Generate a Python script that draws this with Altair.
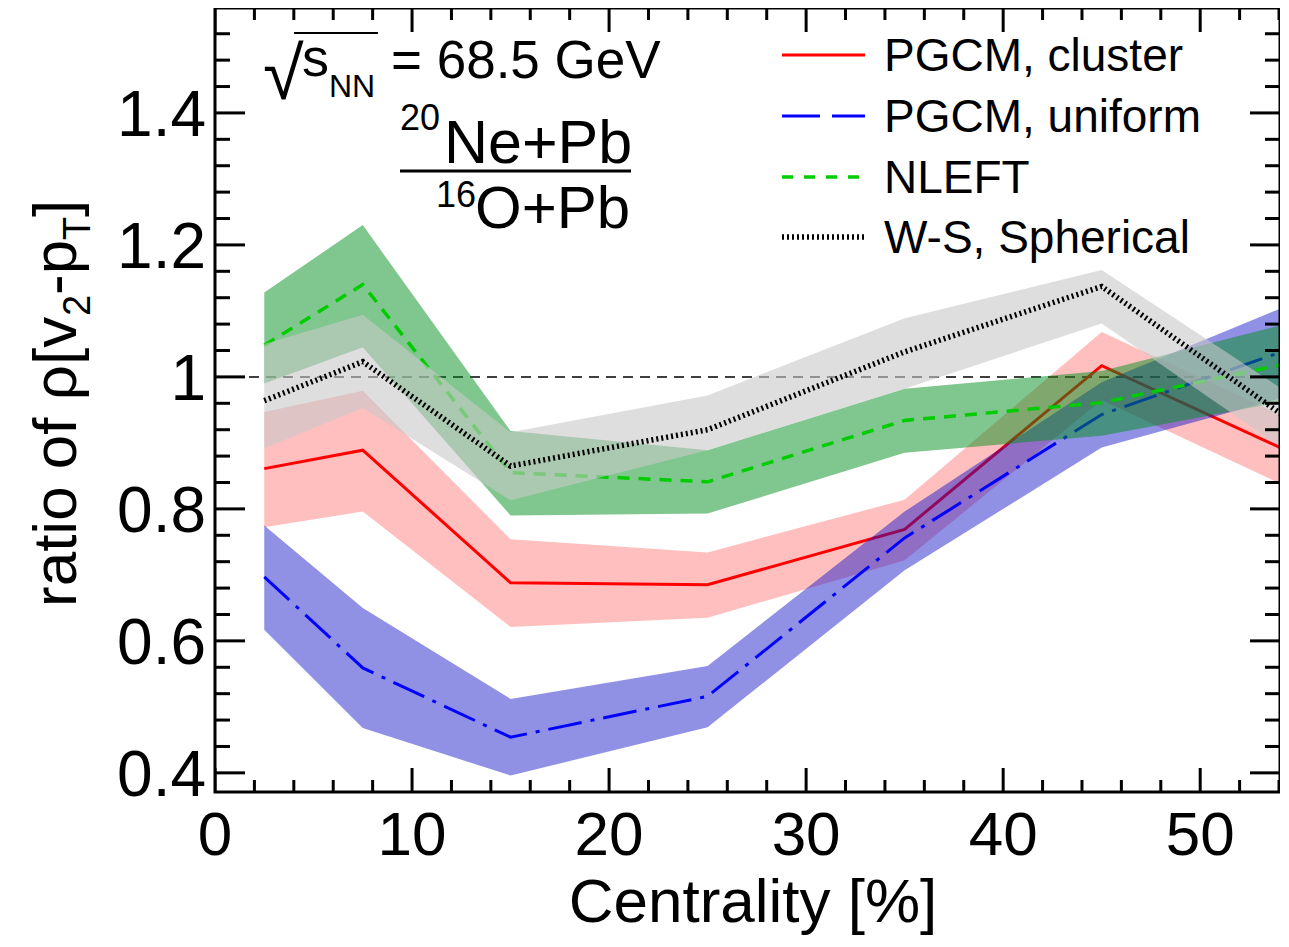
import altair as alt
import pandas as pd

# ---------------- data ----------------
centrality = [2.5, 7.5, 15, 25, 35, 45, 55]

cluster_mid = [0.861, 0.889, 0.688, 0.685, 0.769, 1.017, 0.880]
cluster_lo = [0.772, 0.796, 0.621, 0.635, 0.722, 0.965, 0.825]
cluster_hi = [0.947, 0.979, 0.754, 0.734, 0.814, 1.068, 0.930]

uniform_mid = [0.697, 0.559, 0.454, 0.516, 0.756, 0.943, 1.047]
uniform_lo = [0.617, 0.468, 0.396, 0.469, 0.707, 0.893, 0.975]
uniform_hi = [0.775, 0.650, 0.512, 0.562, 0.796, 0.992, 1.115]

nleft_mid = [1.048, 1.140, 0.855, 0.841, 0.934, 0.961, 1.024]
nleft_lo = [0.990, 1.045, 0.790, 0.793, 0.885, 0.911, 0.967]
nleft_hi = [1.128, 1.230, 0.918, 0.889, 0.982, 1.009, 1.085]

ws_mid = [0.964, 1.023, 0.865, 0.920, 1.038, 1.137, 0.925]
ws_lo = [0.892, 0.953, 0.813, 0.889, 0.982, 1.081, 0.875]
ws_hi = [1.050, 1.094, 0.916, 0.972, 1.089, 1.162, 0.965]

legend_labels = ["PGCM, cluster", "PGCM, uniform", "NLEFT", "W-S, Spherical"]

x_major = [0, 10, 20, 30, 40, 50]
x_labels = ["0", "10", "20", "30", "40", "50"]
x_minor = [2, 4, 6, 8, 12, 14, 16, 18, 22, 24, 26, 28, 32, 34, 36, 38,
           42, 44, 46, 48, 52, 54]
y_major = [0.4, 0.6, 0.8, 1.0, 1.2, 1.4]
y_labels = ["0.4", "0.6", "0.8", "1", "1.2", "1.4"]
y_minor = [0.44, 0.48, 0.52, 0.56, 0.64, 0.68, 0.72, 0.76, 0.84, 0.88,
           0.92, 0.96, 1.04, 1.08, 1.12, 1.16, 1.24, 1.28, 1.32, 1.36,
           1.44, 1.48, 1.52]
reference_level = [1.0]

# ---------------- layout ----------------
FONT = "Liberation Sans"
W, H = 1065, 784          # plot area
LEFT, TOP = 215, 8        # page position of plot area
xs = alt.Scale(domain=[0, 54.05], nice=False, zero=False)
ys = alt.Scale(domain=[0.371, 1.559], nice=False, zero=False)


def band(lo, hi, color, op):
    df = pd.DataFrame({"x": centrality, "lo": lo, "hi": hi})
    return alt.Chart(df).mark_area(color=color, opacity=op, clip=True).encode(
        x=alt.X("x:Q", scale=xs, axis=None),
        y=alt.Y("lo:Q", scale=ys, axis=None),
        y2="hi:Q",
    )


def curve(mid, color, width, dash=None):
    df = pd.DataFrame({"x": centrality, "y": mid})
    kw = dict(color=color, strokeWidth=width, clip=True)
    if dash:
        kw["strokeDash"] = dash
    return alt.Chart(df).mark_line(**kw).encode(
        x=alt.X("x:Q", scale=xs, axis=None),
        y=alt.Y("y:Q", scale=ys, axis=None),
    )


def xticks(vals, length):
    df = pd.DataFrame({"v": vals})
    base = alt.Chart(df).mark_rule(color="black", strokeWidth=3, clip=True)
    return [
        base.encode(x=alt.X("v:Q", scale=xs, axis=None), y=alt.value(H), y2=alt.value(H - length)),
        base.encode(x=alt.X("v:Q", scale=xs, axis=None), y=alt.value(0), y2=alt.value(length)),
    ]


def yticks(vals, length):
    df = pd.DataFrame({"v": vals})
    base = alt.Chart(df).mark_rule(color="black", strokeWidth=3, clip=True)
    return [
        base.encode(y=alt.Y("v:Q", scale=ys, axis=None), x=alt.value(0), x2=alt.value(length)),
        base.encode(y=alt.Y("v:Q", scale=ys, axis=None), x=alt.value(W), x2=alt.value(W - length)),
    ]


def text(t, px, py, size, align="left", angle=0):
    df = pd.DataFrame({"t": [t]})
    return alt.Chart(df).mark_text(font=FONT, fontSize=size, align=align,
                                   baseline="alphabetic", angle=angle,
                                   color="black").encode(
        x=alt.value(px - LEFT), y=alt.value(py - TOP), text="t:N")


def legend_line(py, color, width, dash=None):
    df = pd.DataFrame({"t": [0]})
    kw = dict(color=color, strokeWidth=width)
    if dash:
        kw["strokeDash"] = dash
    return alt.Chart(df).mark_rule(**kw).encode(
        x=alt.value(782 - LEFT), x2=alt.value(865 - LEFT), y=alt.value(py - TOP))


BLUE_DASH = [34, 9, 4, 9]
GREEN_DASH = [12, 9]
BLACK_DASH = [2, 3]

ref = alt.Chart(pd.DataFrame({"v": reference_level})).mark_rule(
    color="black", strokeWidth=1.5, strokeDash=[10, 7]).encode(
    y=alt.Y("v:Q", scale=ys, axis=None), x=alt.value(0), x2=alt.value(W))

layers = [
    ref,
    band(cluster_lo, cluster_hi, "#ff0000", 0.25),
    curve(cluster_mid, "#ff0000", 3),
    band(uniform_lo, uniform_hi, "#1414c8", 0.47),
    curve(uniform_mid, "#0000ff", 3, BLUE_DASH),
    band(nleft_lo, nleft_hi, "#00901e", 0.5),
    curve(nleft_mid, "#00cc00", 3.5, GREEN_DASH),
    band(ws_lo, ws_hi, "#c8c8c8", 0.6),
    curve(ws_mid, "#000000", 5.5, BLACK_DASH),
]
layers += xticks(x_major, 24) + xticks(x_minor, 12)
layers += yticks(y_major, 30) + yticks(y_minor, 15)

frame = alt.Chart(pd.DataFrame({"t": [0]})).mark_rect(
    fillOpacity=0, stroke="black", strokeWidth=3).encode(
    x=alt.value(0), x2=alt.value(W), y=alt.value(0), y2=alt.value(H))
layers.append(frame)

# tick labels
xl = alt.Chart(pd.DataFrame({"v": x_major, "t": x_labels})).mark_text(
    font=FONT, fontSize=62, align="center", baseline="alphabetic", color="black").encode(
    x=alt.X("v:Q", scale=xs, axis=None), y=alt.value(H + 63), text="t:N")
yl = alt.Chart(pd.DataFrame({"v": y_major, "t": y_labels})).mark_text(
    font=FONT, fontSize=64, align="right", baseline="alphabetic", dx=-9, dy=23,
    color="black").encode(
    y=alt.Y("v:Q", scale=ys, axis=None), x=alt.value(0), text="t:N")
layers += [xl, yl]

# axis titles
layers.append(text("Centrality [%]", 753, 922, 62, align="center"))
layers.append(text("ratio of \u03c1[v", 76, 607, 62, angle=270))
layers.append(text("2", 90, 316, 38, angle=270))
layers.append(text("-p", 76, 295, 62, angle=270))
layers.append(text("T", 90, 240, 38, angle=270))
layers.append(text("]", 76, 217, 62, angle=270))

# energy label
layers.append(text("\u221a", 263, 99, 74))
overline = alt.Chart(pd.DataFrame({"t": [0]})).mark_rule(color="black", strokeWidth=2).encode(
    x=alt.value(294 - LEFT), x2=alt.value(378 - LEFT), y=alt.value(33 - TOP))
layers.append(overline)
layers.append(text("s", 302, 76, 54))
layers.append(text("NN", 329, 97, 32))
layers.append(text("= 68.5 GeV", 391, 78, 53))

# ratio label
layers.append(text("20", 400, 130, 36))
layers.append(text("Ne+Pb", 444, 163, 61))
fracline = alt.Chart(pd.DataFrame({"t": [0]})).mark_rule(color="black", strokeWidth=3).encode(
    x=alt.value(400 - LEFT), x2=alt.value(631 - LEFT), y=alt.value(171 - TOP))
layers.append(fracline)
layers.append(text("16", 436, 207, 36))
layers.append(text("O+Pb", 475, 228, 60))

# legend
rows = [55, 116, 177, 237]
layers.append(legend_line(rows[0], "#ff0000", 3))
layers.append(legend_line(rows[1], "#0000ff", 3, [38, 12]))
layers.append(legend_line(rows[2], "#00cc00", 3.5, [11, 11]))
layers.append(legend_line(rows[3], "#000000", 5.5, BLACK_DASH))
for r, lab in zip(rows, legend_labels):
    layers.append(text(lab, 884, r + 16, 46))

chart = alt.layer(*layers).properties(
    width=W, height=H,
    autosize=alt.AutoSizeParams(type="none"),
    padding={"left": LEFT - 8, "top": 0, "right": 0, "bottom": 144},
).configure_view(strokeWidth=0)

chart.save("out.html", embed_options={"renderer": "svg", "actions": False})
